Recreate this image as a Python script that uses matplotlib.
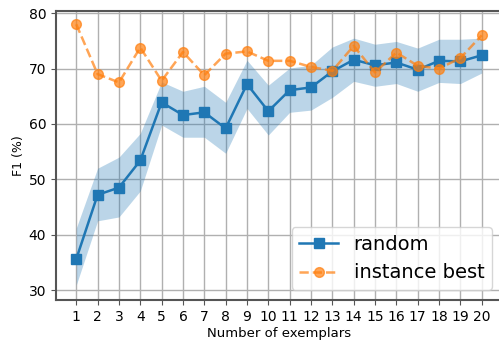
import matplotlib
matplotlib.use("Agg")
import matplotlib.pyplot as plt
import numpy as np

n_exemplars = list(range(1, 21))
random_mean = [35.6, 47.2, 48.5, 53.4, 63.9, 61.6, 62.1, 59.2, 67.2, 62.3,
               66.1, 66.6, 69.5, 71.6, 70.6, 71.1, 69.8, 71.4, 71.3, 72.4]
random_upper = [41.2, 52.0, 54.0, 58.3, 67.6, 65.9, 66.8, 63.9, 71.5, 67.0,
                70.1, 70.6, 73.9, 75.5, 74.4, 74.9, 73.7, 75.3, 75.3, 75.5]
random_lower = [30.9, 42.5, 43.2, 47.9, 59.8, 57.6, 57.6, 54.7, 62.8, 58.0,
                62.1, 62.5, 64.8, 67.7, 66.8, 67.3, 65.9, 67.5, 67.3, 69.2]
instance_best = [78.0, 69.0, 67.5, 73.8, 67.8, 73.0, 68.8, 72.7, 73.1, 71.4,
                 71.4, 70.3, 69.6, 74.1, 69.3, 72.9, 70.5, 70.0, 71.9, 76.0]

fig = plt.figure(figsize=(4.99, 3.41), dpi=100)
ax = fig.add_axes([56/499, 1-300/341, (502-56)/499, (300-11)/341])

ax.fill_between(n_exemplars, random_lower, random_upper, color="#1f77b4", alpha=0.3, linewidth=0)
ax.plot(n_exemplars, random_mean, color="#1f77b4", marker="s", markersize=7, linewidth=1.8, label="random")
ax.plot(n_exemplars, instance_best, color="#ff7f0e", marker="o", markersize=7, linewidth=1.8,
        linestyle="--", alpha=0.7, label="instance best")

ax.set_xticks(n_exemplars)
ax.set_xlim(0.05, 20.95)
ax.set_ylim(28.2, 80.4)
ax.set_yticks([30, 40, 50, 60, 70, 80])
ax.grid(True, color="#b0b0b0", linewidth=1)
ax.set_axisbelow(True)
for s in ax.spines.values():
    s.set_color("#555555")
    s.set_linewidth(1.5)
ax.tick_params(labelsize=10, color="#555555")
ax.set_xlabel("Number of exemplars", fontsize=9.5, labelpad=2)
ax.set_ylabel("F1 (%)", fontsize=9, labelpad=2.5)
ax.legend(loc="lower right", fontsize=14)

fig.savefig("out.png", dpi=100)
